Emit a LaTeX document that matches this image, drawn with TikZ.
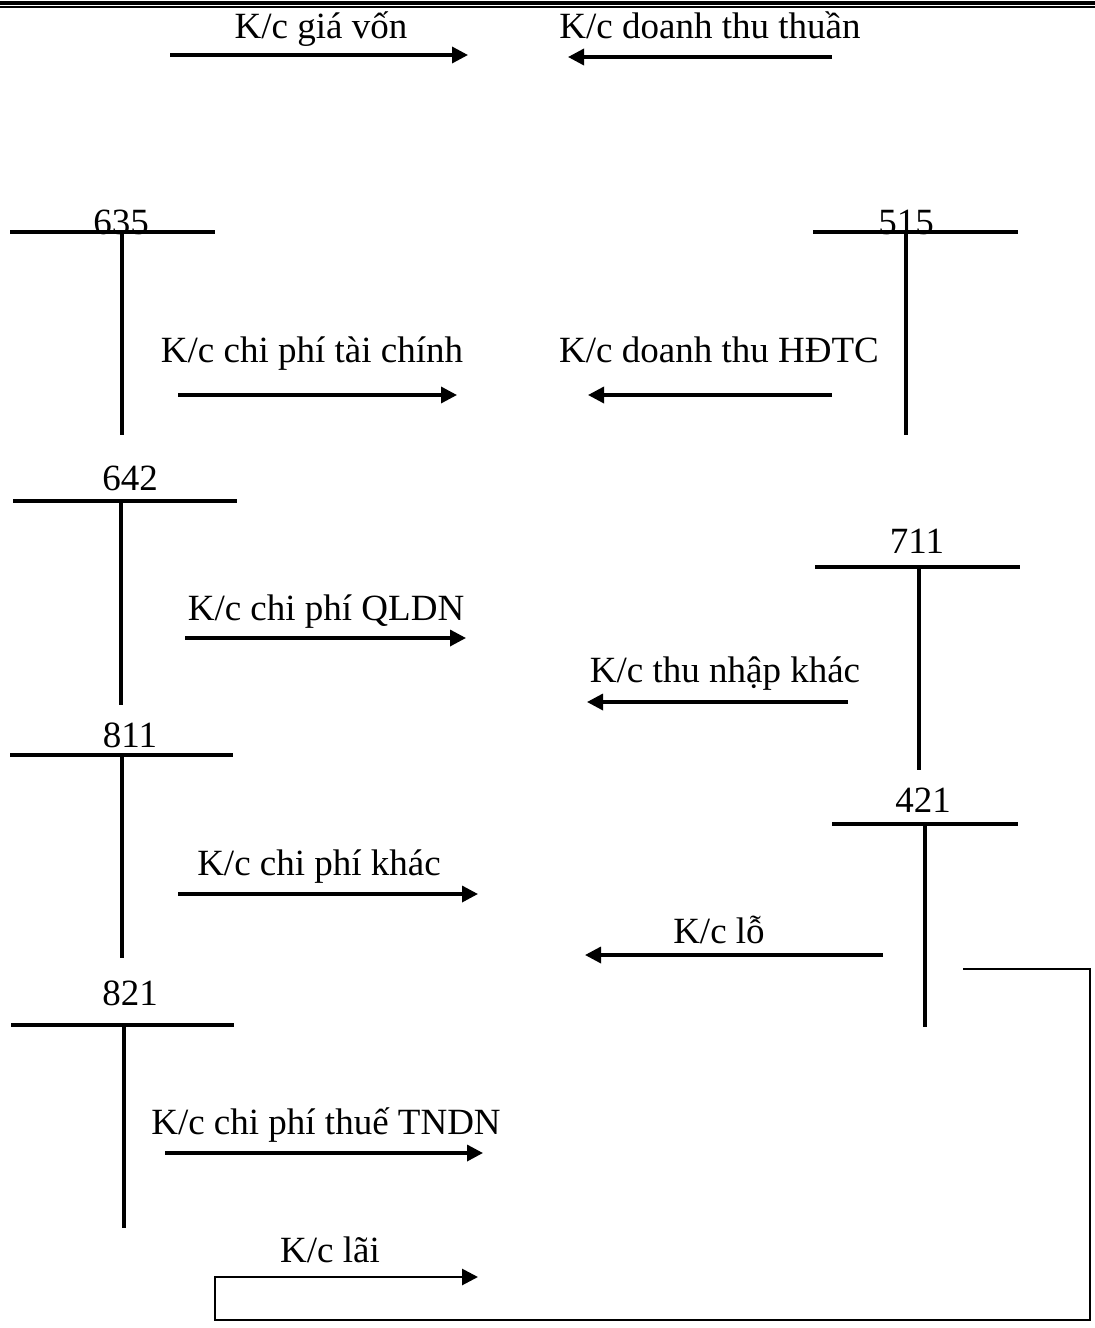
\documentclass[tikz,border=0pt]{standalone}
\usepackage{fontspec}
\setmainfont{Liberation Serif}
\usetikzlibrary{arrows.meta}

\begin{document}
\begin{tikzpicture}[x=0.5pt,y=-0.5pt,
    acct/.style={line width=2pt},
    flow/.style={line width=1.7pt,-{Triangle[length=8pt,width=8pt]}},
    lbl/.style={font=\fontsize{18.5}{22}\selectfont,anchor=base,inner sep=0pt}]
  \useasboundingbox (0,0) rectangle (1095,1328);
  % double rule at the top
  \draw[line width=2pt] (0,2.5) -- (1095,2.5);
  \draw[line width=0.9pt] (0,7) -- (1095,7);
  % T accounts
  \draw[acct] (10,232) -- (215,232) (122,232) -- (122,435);
    \node[lbl] (a635) at (121,234) {635};
  \draw[acct] (813,232) -- (1018,232) (906,232) -- (906,435);
    \node[lbl] (a515) at (906,234) {515};
  \draw[acct] (13,501) -- (237,501) (121,501) -- (121,705);
    \node[lbl] (a642) at (130,490) {642};
  \draw[acct] (815,567) -- (1020,567) (919,567) -- (919,770);
    \node[lbl] (a711) at (917,553) {711};
  \draw[acct] (10,755) -- (233,755) (122,755) -- (122,958);
    \node[lbl] (a811) at (130,747) {811};
  \draw[acct] (832,824) -- (1018,824) (925,824) -- (925,1027);
    \node[lbl] (a421) at (923,812) {421};
  \draw[acct] (11,1025) -- (234,1025) (124,1025) -- (124,1228);
    \node[lbl] (a821) at (130,1005) {821};
  % transfers
  \coordinate (gvA) at (170,55);   \coordinate (gvB) at (468,55);
  \coordinate (dtA) at (832,57);   \coordinate (dtB) at (568,57);
  \coordinate (tcA) at (178,395);  \coordinate (tcB) at (457,395);
  \coordinate (hdA) at (832,395);  \coordinate (hdB) at (588,395);
  \coordinate (qlA) at (185,638);  \coordinate (qlB) at (466,638);
  \coordinate (tnA) at (848,702);  \coordinate (tnB) at (587,702);
  \coordinate (ckA) at (178,894);  \coordinate (ckB) at (478,894);
  \coordinate (loA) at (883,955);  \coordinate (loB) at (585,955);
  \coordinate (thA) at (165,1153); \coordinate (thB) at (483,1153);
  \draw[flow] (gvA) -- (gvB);
    \node[lbl] (tGiaVon) at (321,38) {K/c giá vốn};
  \draw[flow] (dtA) -- (dtB);
    \node[lbl] (tDoanhThu) at (710,38) {K/c doanh thu thuần};
  \draw[flow] (tcA) -- (tcB);
    \node[lbl] (tTaiChinh) at (312,362) {K/c chi phí tài chính};
  \draw[flow] (hdA) -- (hdB);
    \node[lbl] (tHDTC) at (719,362) {K/c doanh thu HĐTC};
  \draw[flow] (qlA) -- (qlB);
    \node[lbl] (tQLDN) at (326,620) {K/c chi phí QLDN};
  \draw[flow] (tnA) -- (tnB);
    \node[lbl] (tThuNhap) at (725,682) {K/c thu nhập khác};
  \draw[flow] (ckA) -- (ckB);
    \node[lbl] (tChiKhac) at (319,875) {K/c chi phí khác};
  \draw[flow] (loA) -- (loB);
    \node[lbl] (tLo) at (719,943) {K/c lỗ};
  \draw[flow] (thA) -- (thB);
    \node[lbl] (tThue) at (326,1134) {K/c chi phí thuế TNDN};
  % profit loop from 421
  \coordinate (laiA) at (963,969);
  \coordinate (laiB) at (478,1277);
  \draw[flow,line width=1.4pt] (laiA) -- (1090,969) -- (1090,1320) -- (215,1320) -- (215,1277) -- (laiB);
    \node[lbl] (tLai) at (330,1262) {K/c lãi};
\end{tikzpicture}
\end{document}
